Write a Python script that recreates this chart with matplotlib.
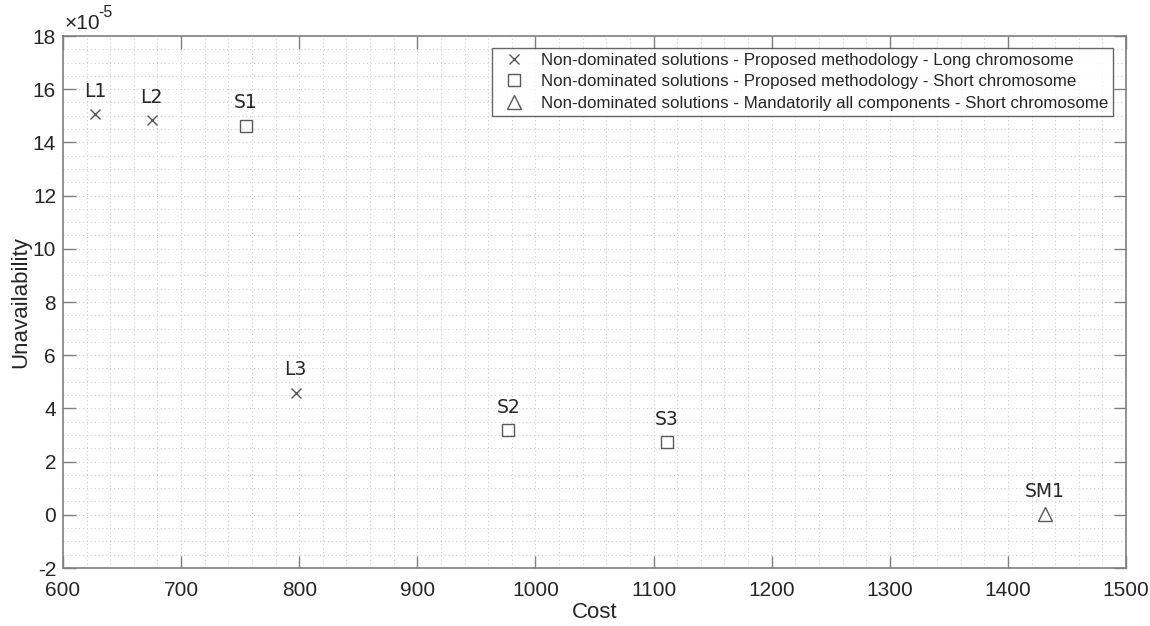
import matplotlib
matplotlib.use("Agg")
import matplotlib.pyplot as plt
from matplotlib.ticker import MultipleLocator

plt.rcParams['font.family'] = ['Liberation Sans', 'DejaVu Sans']
plt.rcParams['axes.unicode_minus'] = False

# Non-dominated solutions (cost, unavailability x 1e-5)
long_names = ["L1", "L2", "L3"]
long_cost = [627, 675, 797]
long_unav = [15.07, 14.84, 4.59]

short_names = ["S1", "S2", "S3"]
short_cost = [755, 977, 1111]
short_unav = [14.63, 3.19, 2.72]

mand_names = ["SM1"]
mand_cost = [1431]
mand_unav = [0.03]

legend_labels = [
    "Non-dominated solutions - Proposed methodology - Long chromosome",
    "Non-dominated solutions - Proposed methodology - Short chromosome",
    "Non-dominated solutions - Mandatorily all components - Short chromosome",
]

mark_col = "#595959"
axis_col = "#7f7f7f"
text_col = "#262626"

fig = plt.figure(figsize=(11.5, 6.26), dpi=100)
ax = fig.add_axes([63 / 1150, 1 - 568 / 626, (1126 - 63) / 1150, (568 - 36) / 626])

ax.plot(long_cost, long_unav, linestyle="none", marker="x", markersize=7.5,
        markeredgewidth=1.0, color=mark_col, label=legend_labels[0])
ax.plot(short_cost, short_unav, linestyle="none", marker="s", markersize=8,
        markerfacecolor="none", markeredgewidth=1.0, color=mark_col, label=legend_labels[1])
ax.plot(mand_cost, mand_unav, linestyle="none", marker="^", markersize=10,
        markerfacecolor="none", markeredgewidth=1.0, color=mark_col, label=legend_labels[2])

for names, xs, ys in [(long_names, long_cost, long_unav),
                      (short_names, short_cost, short_unav),
                      (mand_names, mand_cost, mand_unav)]:
    for n, x, y in zip(names, xs, ys):
        ax.annotate(n, (x, y), xytext=(0, 12.5), textcoords="offset points",
                    ha="center", va="baseline", fontsize=13.5, color=text_col,
                    family=["DejaVu Sans"])

ax.set_xlim(600, 1500)
ax.set_ylim(-2, 18)
ax.xaxis.set_major_locator(MultipleLocator(100))
ax.xaxis.set_minor_locator(MultipleLocator(20))
ax.yaxis.set_major_locator(MultipleLocator(2))
ax.yaxis.set_minor_locator(MultipleLocator(0.5))

ax.grid(which="both", linestyle=(0, (1, 2.5)), color="#d0d0d0", linewidth=0.8)
ax.set_axisbelow(True)

for s in ax.spines.values():
    s.set_color(axis_col)
    s.set_linewidth(1.2)

ax.tick_params(which="major", direction="in", length=9, width=1.0, color=axis_col,
               top=True, right=True, labelsize=15, labelcolor=text_col)
ax.tick_params(axis="x", which="major", pad=9)
ax.tick_params(axis="y", which="major", pad=5)
ax.tick_params(which="minor", length=0)

ax.set_xlabel("Cost", fontsize=16, color=text_col, labelpad=2)
ax.set_ylabel("Unavailability", fontsize=16, color=text_col, labelpad=1)

# Axis scale factor shown above the y axis
ax.text(0.001, 1.006, "\u00d710", transform=ax.transAxes, fontsize=15,
        color=text_col, ha="left", va="bottom")
ax.text(0.033, 1.03, "-5", transform=ax.transAxes, fontsize=11.5,
        color=text_col, ha="left", va="bottom")

leg = ax.legend(loc="upper right", bbox_to_anchor=(0.988, 0.978), fontsize=12.2,
                frameon=True, fancybox=False, borderpad=0.3, labelspacing=0.38,
                handletextpad=0.6, handlelength=2.0, borderaxespad=0)
leg.get_frame().set_edgecolor("#404040")
leg.get_frame().set_linewidth(1.0)
for t in leg.get_texts():
    t.set_color(text_col)

fig.savefig("out.png", dpi=100)
